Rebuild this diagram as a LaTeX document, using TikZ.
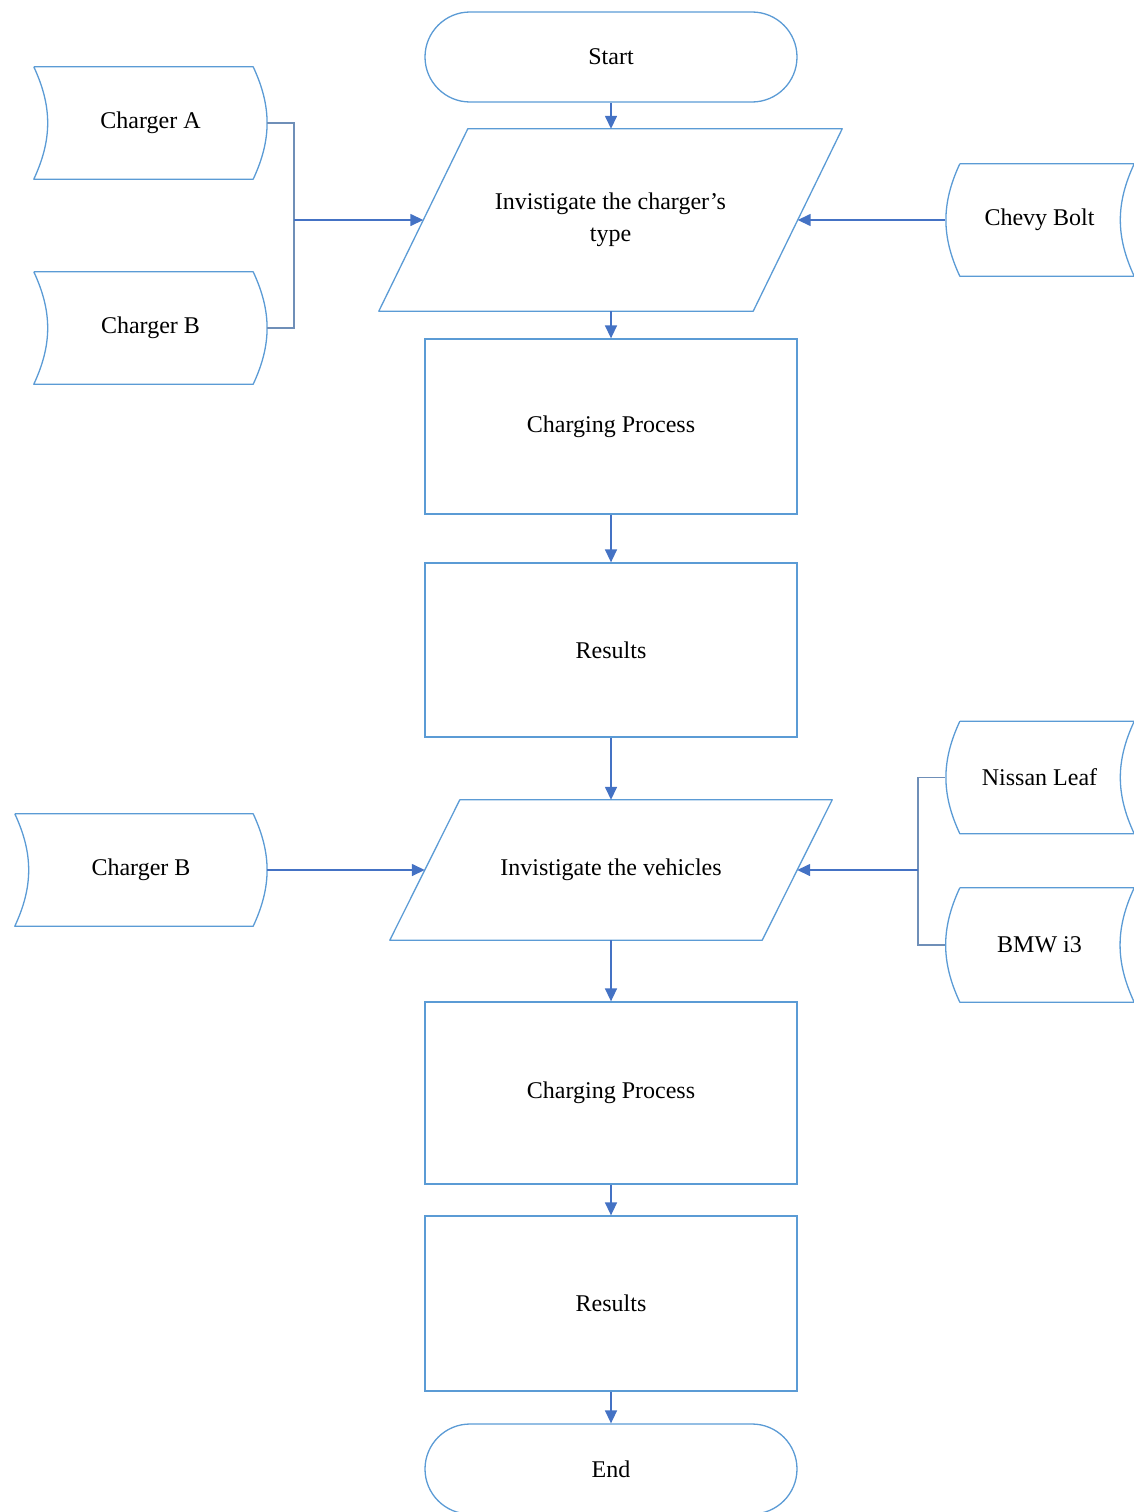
\documentclass[tikz,border=0pt]{standalone}
\usepackage{fontspec}
\setmainfont{Liberation Serif}
\usetikzlibrary{shapes.misc,arrows.meta}
\definecolor{edge}{HTML}{5B9BD5}
\definecolor{flow}{HTML}{4472C4}
\definecolor{link}{HTML}{6F8FB8}

\begin{document}
\begin{tikzpicture}[x=1pt,y=-1pt,
  every node/.style={font=\fontsize{24}{32}\selectfont, text=black},
  box/.style={draw=edge, line width=1.3pt, minimum width=372pt, minimum height=175pt, inner sep=0pt},
  term/.style={rounded rectangle, draw=edge, line width=1.3pt, minimum width=372pt, minimum height=90pt, inner sep=0pt},
  io/.style={inner sep=0pt, align=center},
  datum/.style={minimum height=112pt, inner sep=0pt},
  flowarrow/.style={draw=flow, line width=1.5pt, -{Triangle[length=13pt,width=12pt]}},
  feed/.style={draw=link, line width=1.5pt},
  datashape/.style={draw=edge, line width=1.3pt, line join=round}
]
\useasboundingbox (0,0) rectangle (1133,1512);

% main column
\node[term] (start) at (611,57) {Start};
\node[io, minimum width=374pt, minimum height=182pt] (inv1) at (610.5,220)
      {Invistigate the charger’s\\type};
\node[box] (proc1) at (611,426.5) {Charging Process};
\node[box, minimum height=174pt] (res1) at (611,650) {Results};
\node[io, minimum width=372pt, minimum height=140pt] (inv2) at (611,870)
      {Invistigate the vehicles};
\node[box, minimum height=182pt] (proc2) at (611,1093) {Charging Process};
\node[box] (res2) at (611,1303.5) {Results};
\node[term] (end) at (611,1469) {End};

% slanted input/output outlines
\foreach \n/\s in {inv1/44.5,inv2/35}{
  \draw[datashape] ([xshift=\s pt]\n.north west) -- ([xshift=\s pt]\n.north east)
    -- ([xshift=-\s pt]\n.south east) -- ([xshift=-\s pt]\n.south west) -- cycle;
}

% data inputs
\node[datum, minimum width=233pt] (chA) at (150.5,123) {Charger A};
\node[datum, minimum width=233pt] (chB) at (150.5,328) {Charger B};
\node[datum, minimum width=252pt] (chB2) at (141,870) {Charger B};
\node[datum, minimum width=189pt] (bolt) at (1039.5,220) {Chevy Bolt};
\node[datum, minimum width=189pt] (leaf) at (1039.5,777.5) {Nissan Leaf};
\node[datum, minimum width=189pt, minimum height=114pt] (bmw) at (1039.5,945) {BMW i3};

% stored-data outlines, curved sides bulging right
\foreach \n in {chA,chB,chB2}{
  \draw[datashape] (\n.north west) -- ([xshift=-14pt]\n.north east)
    to[bend left=25] ([xshift=-14pt]\n.south east) -- (\n.south west)
    to[bend right=25] (\n.north west);
}
% stored-data outlines, curved sides bulging left
\foreach \n in {bolt,leaf,bmw}{
  \draw[datashape] ([xshift=15pt]\n.north west) -- (\n.north east)
    to[bend right=25] (\n.south east) -- ([xshift=15pt]\n.south west)
    to[bend left=25] ([xshift=15pt]\n.north west);
}

% flow
\draw[flowarrow] (start.south) -- (start.south |- inv1.north);
\draw[flowarrow] (inv1.south -| proc1.north) -- (proc1.north);
\draw[flowarrow] (proc1.south) -- (res1.north);
\draw[flowarrow] (res1.south) -- (inv2.north);
\draw[flowarrow] (inv2.south) -- (proc2.north);
\draw[flowarrow] (proc2.south) -- (res2.north);
\draw[flowarrow] (res2.south) -- (end.north);

% inputs to the first check
\coordinate (jL) at (294,220);
\draw[feed] (chA.east) -| (jL) |- (chB.east);
\draw[flowarrow] (jL) -- (inv1.west);
\draw[flowarrow] (bolt.west) -- (inv1.east);

% inputs to the second check
\draw[flowarrow] (chB2.east) -- (inv2.west);
\coordinate (jR) at (918,870);
\draw[feed] (leaf.west) -| (jR) |- (bmw.west);
\draw[flowarrow] (jR) -- (inv2.east);
\end{tikzpicture}
\end{document}
